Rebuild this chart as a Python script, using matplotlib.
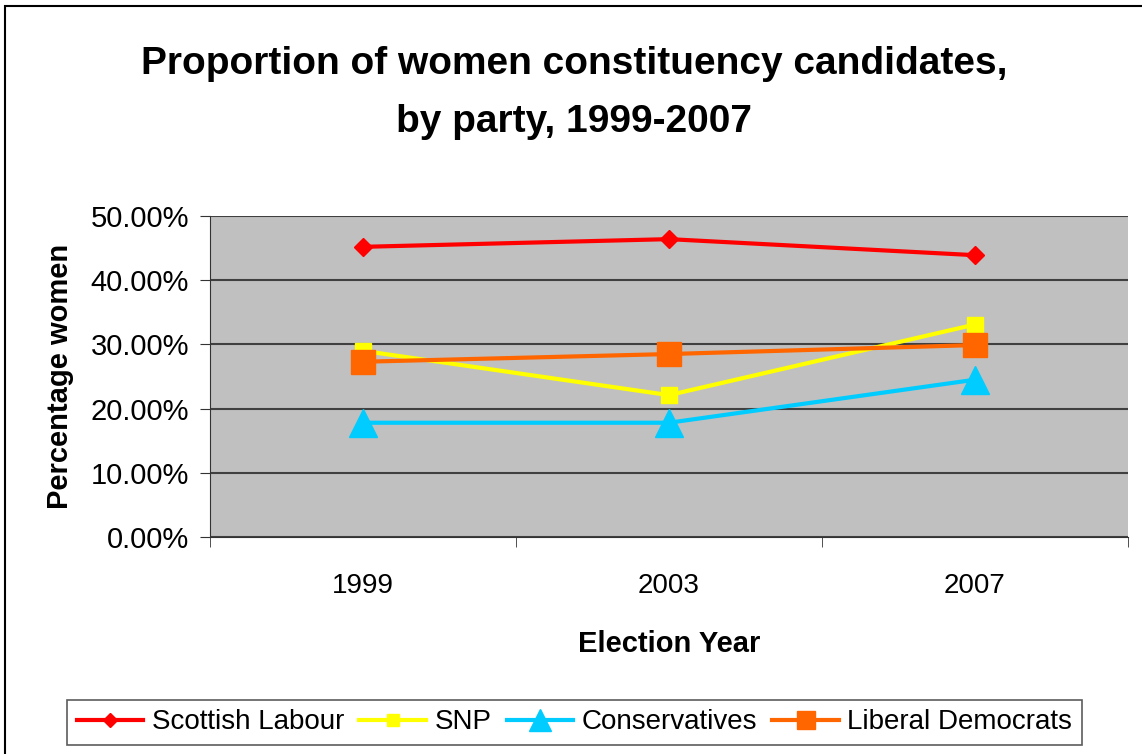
import matplotlib
matplotlib.use("Agg")
import matplotlib.pyplot as plt
from matplotlib.ticker import FuncFormatter
from matplotlib.patches import Rectangle

years = ["1999", "2003", "2007"]
labour = [45.2, 46.4, 43.9]
snp = [29.0, 22.1, 33.1]
conservatives = [17.8, 17.8, 24.5]
lib_dems = [27.3, 28.5, 29.9]

plt.rcParams["font.family"] = ["Liberation Sans", "DejaVu Sans"]

fig = plt.figure(figsize=(11.42, 7.54), dpi=100)
ax = fig.add_axes([0.1839, 0.2878, 0.9877 - 0.1839, 0.7135 - 0.2878])
ax.set_facecolor("#c0c0c0")

# outer chart border
fig.patches.append(Rectangle((5 / 1142, -0.01), 1.1, 1 - 6 / 754 + 0.01,
                             transform=fig.transFigure, fill=False,
                             edgecolor="black", linewidth=1.5))

x = range(len(years))
ax.plot(x, labour, color="#ff0000", lw=3, marker="D", ms=9, label="Scottish Labour")
ax.plot(x, snp, color="#ffff00", lw=3, marker="s", ms=11, label="SNP")
ax.plot(x, conservatives, color="#00ccff", lw=3, marker="^", ms=20, label="Conservatives")
ax.plot(x, lib_dems, color="#ff6600", lw=3, marker="s", ms=17, label="Liberal Democrats")

ax.set_xlim(-0.5, 2.5)
ax.set_ylim(0, 50)
ax.set_yticks(range(0, 51, 10))
ax.yaxis.set_major_formatter(FuncFormatter(lambda v, _: f"{v:.2f}%"))
ax.set_xticks(list(x))
ax.set_xticklabels(years)
ax.set_xticks([-0.5, 0.5, 1.5, 2.5], minor=True)
ax.tick_params(axis="x", which="major", length=0, pad=26, labelsize=20)
ax.tick_params(axis="x", which="minor", length=7, direction="out", color="#333333")
ax.tick_params(axis="y", length=7, direction="out", labelsize=21, pad=8, color="#333333")
ax.yaxis.grid(True, color="#404040", lw=1.5)
ax.set_axisbelow(True)
for side in ["top", "right"]:
    ax.spines[side].set_visible(False)
for side in ["left", "bottom"]:
    ax.spines[side].set_color("#333333")

ax.set_xlabel("Election Year", fontsize=21, fontweight="bold", labelpad=22)
ax.set_ylabel("Percentage women", fontsize=21, fontweight="bold", labelpad=12)
fig.text(0.503, 0.877, "Proportion of women constituency candidates,\nby party, 1999-2007",
         ha="center", va="center", fontsize=28, fontweight="bold", linespacing=1.8)

leg = fig.legend(loc="center", ncol=4, fontsize=20, frameon=True,
                 fancybox=False, handlelength=2.4, handletextpad=0.3,
                 columnspacing=0.55, borderpad=0.35, markerscale=0.8)
leg.set_bbox_to_anchor((0.503, 0.042), transform=fig.transFigure)
leg.get_frame().set_edgecolor("#333333")
leg.get_frame().set_linewidth(1.2)

fig.savefig("out.png", dpi=100)
